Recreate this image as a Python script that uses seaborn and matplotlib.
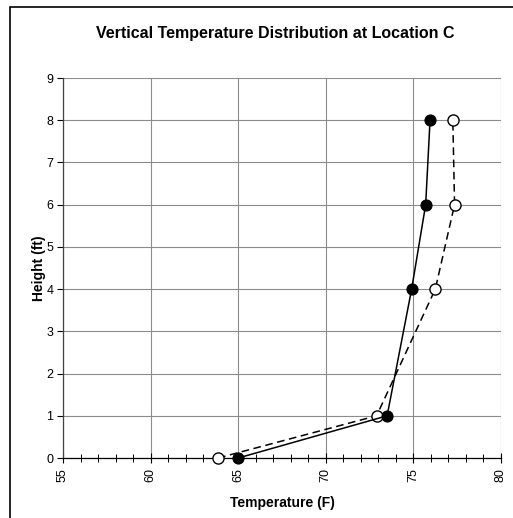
import matplotlib.pyplot as plt
import matplotlib.patches as mpatches
import matplotlib.ticker as mticker
import pandas as pd
import seaborn as sns

heights = [0, 1, 4, 6, 8]
temp_solid = [65.0, 73.5, 74.9, 75.7, 75.95]
temp_dashed = [63.85, 72.9, 76.25, 77.35, 77.25]


def get_data() -> pd.DataFrame:
    return pd.DataFrame({"height": heights, "solid": temp_solid, "dashed": temp_dashed})


sns.set_style("white")
plt.rcParams["font.family"] = ["Liberation Sans", "DejaVu Sans"]
plt.rcParams["text.color"] = "black"
plt.rcParams["axes.labelcolor"] = "black"
plt.rcParams["xtick.color"] = "black"
plt.rcParams["ytick.color"] = "black"

df = get_data()
fig = plt.figure(figsize=(5.13, 5.18), dpi=100)
ax = fig.add_axes([0.1228, 0.1158, 0.8538, 0.7336])

# outer chart frame (only top and left edges visible in reference)
fig.patches.append(mpatches.Rectangle((0.0195, -0.1), 1.2, 1.087, transform=fig.transFigure,
                                      fill=False, edgecolor="black", linewidth=1.2))

line_kw = dict(sort=False, estimator=None, ax=ax, color="black", linewidth=1.1,
               marker="o", markersize=8, markeredgecolor="black", clip_on=False)
sns.lineplot(data=df, x="dashed", y="height", linestyle=(0, (5, 3)),
             markerfacecolor="white", markeredgewidth=1.0, zorder=3, **line_kw)
sns.lineplot(data=df, x="solid", y="height", markerfacecolor="black", zorder=4, **line_kw)

ax.set_xlim(55, 80)
ax.set_ylim(0, 9)
ax.xaxis.set_major_locator(mticker.MultipleLocator(5))
ax.xaxis.set_minor_locator(mticker.MultipleLocator(1))
ax.yaxis.set_major_locator(mticker.MultipleLocator(1))
ax.grid(True, which="major", color="#8c8c8c", linewidth=0.8)
ax.set_axisbelow(True)

for side in ["top", "right"]:
    ax.spines[side].set_visible(False)
ax.spines["bottom"].set_color("black")
ax.spines["left"].set_color("#444444")
ax.spines["bottom"].set_linewidth(0.9)
ax.spines["left"].set_linewidth(0.9)

ax.tick_params(axis="x", which="major", direction="inout", length=7, width=0.8,
               labelsize=9, labelrotation=90, pad=4, bottom=True)
ax.tick_params(axis="x", which="minor", direction="inout", length=6, width=0.7, bottom=True)
ax.tick_params(axis="y", which="major", direction="out", length=4, width=0.8,
               labelsize=9, pad=3, left=True)

ax.set_xlabel("Temperature (F)", fontsize=10, fontweight="bold", labelpad=10)
ax.set_ylabel("Height (ft)", fontsize=10, fontweight="bold", labelpad=0)
fig.text(0.536, 0.936, "Vertical Temperature Distribution at Location C",
         ha="center", va="center", fontsize=11.5, fontweight="bold")

fig.savefig("out.png", dpi=100)
